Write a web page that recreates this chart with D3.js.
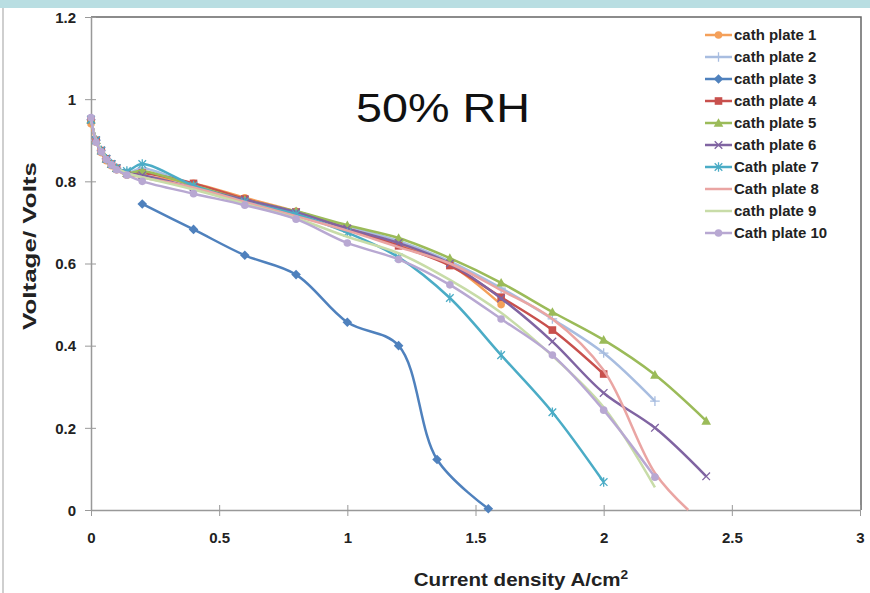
<!DOCTYPE html>
<html><head><meta charset="utf-8">
<script src="https://cdn.jsdelivr.net/npm/d3@7"></script>
<style>html,body{margin:0;padding:0;background:#fff;}svg{display:block;}</style>
</head><body>
<script>
// ---- data ----
const seriesNames = ["cath plate 1","cath plate 2","cath plate 3","cath plate 4","cath plate 5","cath plate 6","Cath plate 7","Cath plate 8","cath plate 9","Cath plate 10"];
const xTicks = [0,0.5,1,1.5,2,2.5,3];
const yTicks = [0,0.2,0.4,0.6,0.8,1,1.2];
const xTickLabels = ["0","0.5","1","1.5","2","2.5","3"];
const yTickLabels = ["0","0.2","0.4","0.6","0.8","1","1.2"];

const cur1  = [0,0.02,0.04,0.06,0.08,0.1,0.14,0.2,0.4,0.6,0.8,1.0,1.2,1.4,1.6];
const volt1 = [0.94,0.895,0.87,0.85,0.838,0.828,0.815,0.812,0.795,0.76,0.727,0.688,0.648,0.597,0.50];
const cur2  = [0,0.02,0.04,0.06,0.08,0.1,0.14,0.2,0.4,0.6,0.8,1.0,1.2,1.4,1.6,1.8,2.0,2.2];
const volt2 = [0.95,0.9,0.875,0.855,0.842,0.832,0.82,0.832,0.79,0.755,0.725,0.69,0.655,0.605,0.54,0.465,0.382,0.265];
const cur3  = [0.2,0.4,0.6,0.8,1.0,1.2,1.35,1.55];
const volt3 = [0.745,0.683,0.62,0.573,0.457,0.4,0.123,0.003];
const cur4  = [0,0.02,0.04,0.06,0.08,0.1,0.14,0.2,0.4,0.6,0.8,1.0,1.2,1.4,1.6,1.8,2.0];
const volt4 = [0.95,0.9,0.875,0.855,0.842,0.832,0.82,0.82,0.795,0.757,0.725,0.685,0.643,0.595,0.518,0.438,0.331];
const cur5  = [0,0.02,0.04,0.06,0.08,0.1,0.14,0.2,0.4,0.6,0.8,1.0,1.2,1.4,1.6,1.8,2.0,2.2,2.4];
const volt5 = [0.95,0.9,0.875,0.855,0.842,0.832,0.82,0.825,0.79,0.755,0.727,0.693,0.662,0.613,0.553,0.482,0.414,0.329,0.217];
const cur6  = [0,0.02,0.04,0.06,0.08,0.1,0.14,0.2,0.4,0.6,0.8,1.0,1.2,1.4,1.6,1.8,2.0,2.2,2.4];
const volt6 = [0.95,0.9,0.875,0.855,0.842,0.832,0.82,0.815,0.785,0.755,0.725,0.685,0.65,0.6,0.515,0.41,0.285,0.2,0.082];
const cur7  = [0,0.02,0.04,0.06,0.08,0.1,0.14,0.2,0.4,0.6,0.8,1.0,1.2,1.4,1.6,1.8,2.0];
const volt7 = [0.95,0.9,0.875,0.855,0.842,0.832,0.825,0.842,0.79,0.75,0.72,0.675,0.615,0.516,0.377,0.238,0.068];
const cur8  = [0,0.02,0.04,0.06,0.08,0.1,0.14,0.2,0.4,0.6,0.8,1.0,1.2,1.4,1.6,1.8,2.0,2.2,2.33];
const volt8 = [0.95,0.9,0.875,0.855,0.842,0.832,0.82,0.81,0.785,0.75,0.715,0.68,0.64,0.6,0.535,0.465,0.34,0.09,0.0];
const cur9  = [0,0.02,0.04,0.06,0.08,0.1,0.14,0.2,0.4,0.6,0.8,1.0,1.2,1.4,1.6,1.8,2.0,2.2];
const volt9 = [0.95,0.9,0.875,0.855,0.842,0.832,0.82,0.81,0.78,0.745,0.71,0.665,0.625,0.56,0.48,0.375,0.25,0.055];
const cur10  = [0,0.02,0.04,0.06,0.08,0.1,0.14,0.2,0.4,0.6,0.8,1.0,1.2,1.4,1.6,1.8,2.0,2.2];
const volt10 = [0.955,0.895,0.872,0.853,0.84,0.828,0.815,0.80,0.77,0.742,0.708,0.65,0.61,0.548,0.465,0.377,0.243,0.08];

const currents = [cur1,cur2,cur3,cur4,cur5,cur6,cur7,cur8,cur9,cur10];
const voltages = [volt1,volt2,volt3,volt4,volt5,volt6,volt7,volt8,volt9,volt10];
const colors = ["#f4a05a","#a8bde0","#4f81bd","#c8504d","#9bbb59","#8064a2","#4bacc6","#eaa5a3","#c8dca8","#b8a8d2"];
const markers = ["circle","plus","diamond","square","triangle","cross","star","none","none","circle"];

// ---- layout ----
const W = 870, H = 593;
const L = 91, R = 860, T = 17, B = 510;
const svg = d3.select("body").append("svg").attr("width", W).attr("height", H);
const x = d3.scaleLinear().domain([0,3]).range([L,R]);
const y = d3.scaleLinear().domain([0,1.2]).range([B,T]);

// slide frame
svg.append("rect").attr("x",0).attr("y",0).attr("width",W).attr("height",8).attr("fill","#b9dee2");
svg.append("line").attr("x1",3).attr("x2",3).attr("y1",8).attr("y2",H).attr("stroke","#cfcfcf").attr("stroke-width",2);

// plot border (top & right)
svg.append("path").attr("d",`M${L},${T}H${R+1}V${B}`).attr("fill","none").attr("stroke","#666").attr("stroke-width",1.5);

// axes
const font = "Liberation Sans, Arial, sans-serif";
const xAxis = d3.axisBottom(x).tickValues(xTicks).tickSize(0).tickFormat((d,i)=>xTickLabels[i]);
const yAxis = d3.axisLeft(y).tickValues(yTicks).tickSize(0).tickFormat((d,i)=>yTickLabels[i]);
const gx = svg.append("g").attr("transform",`translate(0,${B})`).call(xAxis);
gx.select(".domain").attr("stroke","#999").attr("stroke-width",1.5);
gx.selectAll(".tick text").attr("dy",0).attr("y",33).attr("font-family",font).attr("font-weight","bold").attr("font-size",15).attr("fill","#222");
gx.selectAll(".tick").append("line").attr("y1",-5).attr("y2",6).attr("stroke","#999").attr("stroke-width",1);
const gy = svg.append("g").attr("transform",`translate(${L},0)`).call(yAxis);
gy.select(".domain").attr("stroke","#999").attr("stroke-width",1.5);
gy.selectAll(".tick text").attr("x",-15).attr("dy","0.35em").attr("font-family",font).attr("font-weight","bold").attr("font-size",15).attr("fill","#222");
gy.selectAll(".tick").append("line").attr("x1",-6).attr("x2",5).attr("stroke","#999").attr("stroke-width",1);

// helper: stretch a text horizontally (in its own frame) to a target width
function fitWidth(sel, target, baseTransform) {
  const w = sel.node().getBBox().width;
  const k = target / w;
  sel.attr("transform", (baseTransform || "") + ` scale(${k},1)`);
}

// titles
const xt = svg.append("text").attr("x",0).attr("y",0).attr("text-anchor","middle").attr("font-family",font).attr("font-weight","bold").attr("font-size",18).attr("fill","#222");
xt.append("tspan").text("Current density A/cm");
xt.append("tspan").attr("font-size",12).attr("dy",-7).text("2");
fitWidth(xt, 215, "translate(521,586)");

const yt = svg.append("text").attr("x",0).attr("y",0).attr("text-anchor","middle").attr("font-family",font).attr("font-weight","bold").attr("font-size",18).attr("fill","#222").text("Voltage/ Volts");
fitWidth(yt, 168, "translate(36,246) rotate(-90)");

const rh = svg.append("text").attr("x",0).attr("y",0).attr("font-family",font).attr("font-size",40).attr("fill","#111").text("50% RH");
fitWidth(rh, 174, "translate(356,122)");

// markers
function drawMarker(g, type, cx, cy, color, s) {
  s = s || 4;
  if (type === "circle") g.append("circle").attr("cx",cx).attr("cy",cy).attr("r",s).attr("fill",color);
  else if (type === "square") g.append("rect").attr("x",cx-s).attr("y",cy-s).attr("width",2*s).attr("height",2*s).attr("fill",color);
  else if (type === "diamond") g.append("path").attr("d",`M${cx},${cy-s-1}L${cx+s+1},${cy}L${cx},${cy+s+1}L${cx-s-1},${cy}Z`).attr("fill",color);
  else if (type === "triangle") g.append("path").attr("d",`M${cx},${cy-s-1}L${cx+s+1},${cy+s}L${cx-s-1},${cy+s}Z`).attr("fill",color);
  else if (type === "plus") g.append("path").attr("d",`M${cx-s-1},${cy}H${cx+s+1}M${cx},${cy-s-1}V${cy+s+1}`).attr("stroke",color).attr("stroke-width",1.3);
  else if (type === "cross") g.append("path").attr("d",`M${cx-s},${cy-s}L${cx+s},${cy+s}M${cx-s},${cy+s}L${cx+s},${cy-s}`).attr("stroke",color).attr("stroke-width",1.3);
  else if (type === "star") g.append("path").attr("d",`M${cx-s},${cy-s}L${cx+s},${cy+s}M${cx-s},${cy+s}L${cx+s},${cy-s}M${cx},${cy-s-1}V${cy+s+1}`).attr("stroke",color).attr("stroke-width",1.3);
}

const line = d3.line().x(d=>x(d[0])).y(d=>y(d[1])).curve(d3.curveCatmullRom.alpha(0.5));
const plot = svg.append("g");
seriesNames.forEach((name,i)=>{
  const pts = currents[i].map((c,j)=>[c, voltages[i][j]]);
  const g = plot.append("g");
  g.append("path").datum(pts).attr("d",line).attr("fill","none").attr("stroke",colors[i]).attr("stroke-width",2.5).attr("stroke-linejoin","round");
  pts.forEach(p=>drawMarker(g, markers[i], x(p[0]), y(p[1]), colors[i], 3.8));
});

// legend
const lg = svg.append("g");
seriesNames.forEach((name,i)=>{
  const yy = 35 + i*22;
  lg.append("line").attr("x1",705).attr("x2",732).attr("y1",yy).attr("y2",yy).attr("stroke",colors[i]).attr("stroke-width",2.5);
  drawMarker(lg, markers[i], 718.5, yy, colors[i], 3.8);
  const t = lg.append("text").attr("x",0).attr("y",0).attr("dy","0.35em").attr("font-family",font).attr("font-weight","bold").attr("font-size",14).attr("fill","#222").text(name);
  const w = t.node().getBBox().width;
  t.attr("transform", `translate(734,${yy}) scale(1.07,1)`);
});
</script>
</body></html>
